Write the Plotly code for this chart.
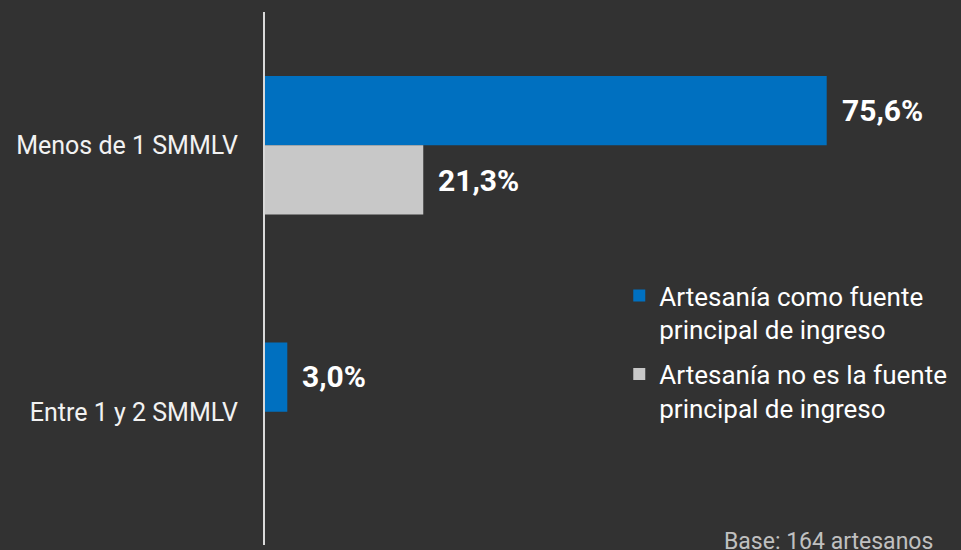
import plotly.graph_objects as go

categories = ["Menos de 1 SMMLV", "Entre 1 y 2 SMMLV"]
series_names = [
    "Artesanía como fuente<br>principal de ingreso",
    "Artesanía no es la fuente<br>principal de ingreso",
]
principal = [75.6, 3.0]
no_principal = [21.3, None]
colors = ["#0070C0", "#C8C8C8"]
base_note = "Base: 164 artesanos"

BG = "#323232"
FONT = "Roboto"

fig = go.Figure()
for k, (name, vals, col) in enumerate(zip(series_names, [principal, no_principal], colors)):
    fig.add_trace(go.Bar(
        y=categories, x=vals, name=name, orientation="h",
        marker=dict(color=col, line=dict(width=0)),
        legendgroup=f"g{k}",
        hoverinfo="skip",
    ))

# value labels
for vals, shift in [(principal, 35), (no_principal, -35)]:
    for cat, v in zip(categories, vals):
        if v is None:
            continue
        fig.add_annotation(
            x=v, y=cat, xref="x", yref="y",
            text="<b>" + f"{v:.1f}".replace(".", ",") + "%</b>",
            showarrow=False, xanchor="left", yanchor="middle",
            xshift=13, yshift=shift,
            font=dict(family=FONT, size=30, color="#FFFFFF"),
        )

fig.add_annotation(
    x=1, y=0, xref="paper", yref="paper",
    text=base_note, showarrow=False,
    xanchor="right", yanchor="middle", xshift=-26, yshift=4,
    font=dict(family=FONT, size=23, color="#C0C0C0"),
)

fig.update_layout(
    width=961, height=550,
    paper_bgcolor=BG, plot_bgcolor=BG,
    margin=dict(l=265, r=0, t=12, b=5),
    barmode="group", bargap=0.48, bargroupgap=0,
    showlegend=True,
    legend=dict(
        x=0.509, y=0.512, xanchor="left", yanchor="top",
        bgcolor="rgba(0,0,0,0)",
        font=dict(family=FONT, size=26, color="#FFFFFF"),
        traceorder="grouped",
        tracegroupgap=8,
        itemwidth=30,
        valign="top",
    ),
    font=dict(family=FONT, color="#FFFFFF"),
    xaxis=dict(
        range=[0, 696 / 7.43], visible=False, fixedrange=True,
    ),
    yaxis=dict(
        autorange="reversed",
        showline=True, linecolor="#D9D9D9", linewidth=2,
        showgrid=False, zeroline=False, ticks="",
        ticklabelstandoff=20,
        tickfont=dict(family=FONT, size=25, color="#F2F2F2"),
    ),
)

fig.write_html(
    "out.html",
    config={"displayModeBar": False},
    post_script="document.body.style.margin='0';document.body.style.background='#323232';",
)
